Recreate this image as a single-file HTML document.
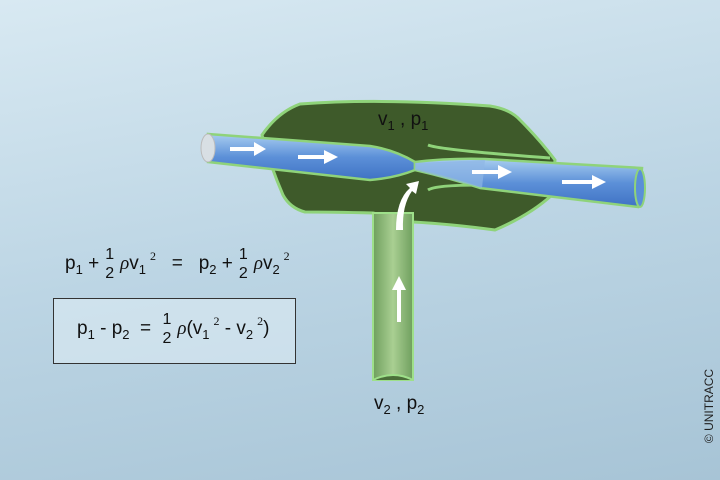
<!DOCTYPE html>
<html><head><style>
body{margin:0}
.w{width:720px;height:480px;position:relative;overflow:hidden;background:linear-gradient(170deg,#d8e9f2 0%,#bcd5e4 50%,#a7c4d6 100%);font-family:"Liberation Sans",sans-serif}
.t{position:absolute;color:#111;font-size:19px;white-space:nowrap}
.w sub{font-size:13px;vertical-align:-5px}
.w sup{font-size:12px;vertical-align:9px;font-family:"Liberation Serif",serif;margin-left:4px}
.fr{display:inline-block;text-align:center;font-size:16px;line-height:19px;vertical-align:middle;margin:0 6px}
.rho{font-family:"Liberation Serif",serif;font-style:italic}
</style></head><body><div class="w">
<svg width="720" height="480" style="position:absolute;left:0;top:0">
<defs>
<linearGradient id="tb" x1="0" y1="0" x2="0" y2="1"><stop offset="0" stop-color="#a8cdf0"/><stop offset="0.5" stop-color="#5c90d8"/><stop offset="1" stop-color="#3f72c4"/></linearGradient>
<linearGradient id="vp" x1="0" y1="0" x2="1" y2="0"><stop offset="0" stop-color="#6f9f5e"/><stop offset="0.5" stop-color="#a9cf92"/><stop offset="1" stop-color="#6f9f5e"/></linearGradient>
</defs>
<path d="M300,104 Q380,98 490,106 Q510,109 520,120 Q540,140 555,160 L552,195 Q530,215 495,230 Q450,224 413,222 L373,213 Q330,212 305,212 Q290,208 283,195 Q270,165 262,135 Q278,112 300,104 Z" fill="#3e5a2a" stroke="#8fd37a" stroke-width="3"/>
<rect x="373" y="213" width="40" height="167" fill="url(#vp)" stroke="#9ee08a" stroke-width="2"/>
<path d="M373,380 Q393,370 413,380" fill="#4b6f3a" stroke="#9ee08a" stroke-width="2"/>
<path d="M428,145 Q440,150 550,158 M428,190 Q440,182 550,187" fill="none" stroke="#8fd37a" stroke-width="3"/>
<path d="M208,134 L370,146 Q395,150 415,162 L415,170 Q395,178 370,180 L208,162 Z" fill="url(#tb)" stroke="#8fd37a" stroke-width="2.5"/>
<path d="M415,162 Q450,158 485,159 L642,168 L638,207 L480,188 Q450,178 415,170 Z" fill="url(#tb)" stroke="#8fd37a" stroke-width="2.5"/>
<path d="M415,163 L485,160 L482,188 L415,170 Z" fill="#8fb7e6" opacity="0.7"/>
<ellipse cx="208" cy="148" rx="7" ry="14" fill="#d8dfe4" stroke="#bbb"/>
<ellipse cx="640" cy="188" rx="5" ry="19" fill="#5a8fd8" stroke="#8fd37a" stroke-width="2"/>
<g fill="#fff">
<path d="M230,147 h24 v-5 l12,7 -12,7 v-5 h-24z"/>
<path d="M298,155 h26 v-5 l14,7 -14,7 v-5 h-26z"/>
<path d="M472,170 h26 v-5 l14,7 -14,7 v-5 h-26z"/>
<path d="M562,180 h30 v-5 l14,7 -14,7 v-5 h-30z"/>
<path d="M397,322 v-32 h-5 l7,-14 7,14 h-5 v32z"/>
<path d="M396,230 Q396,200 410,188 l-4,-4 13,-3 -3,13 -4,-3 Q402,205 403,230z"/>
</g>
</svg>
<div class="t" style="left:378px;top:109px">v<sub>1</sub> , p<sub>1</sub></div>
<div class="t" style="left:374px;top:393px">v<sub>2</sub> , p<sub>2</sub></div>
<div class="t" style="left:65px;top:245px">p<sub>1</sub> +<span class="fr">1<br>2</span><span class="rho">ρ</span>v<sub>1</sub><sup>2</sup>&nbsp;&nbsp; = &nbsp;&nbsp;p<sub>2</sub> +<span class="fr">1<br>2</span><span class="rho">ρ</span>v<sub>2</sub><sup>2</sup></div>
<div style="position:absolute;left:53px;top:298px;width:241px;height:64px;border:1px solid #333;background:rgba(220,235,243,0.6)"></div>
<div class="t" style="left:77px;top:310px">p<sub>1</sub> - p<sub>2</sub> &nbsp;= <span class="fr">1<br>2</span><span class="rho">ρ</span>(v<sub>1</sub><sup>2</sup> - v<sub>2</sub><sup>2</sup>)</div>
<div class="t" style="left:672px;top:399px;font-size:12px;transform:rotate(-90deg);color:#222">© UNITRACC</div>
</div></body></html>
